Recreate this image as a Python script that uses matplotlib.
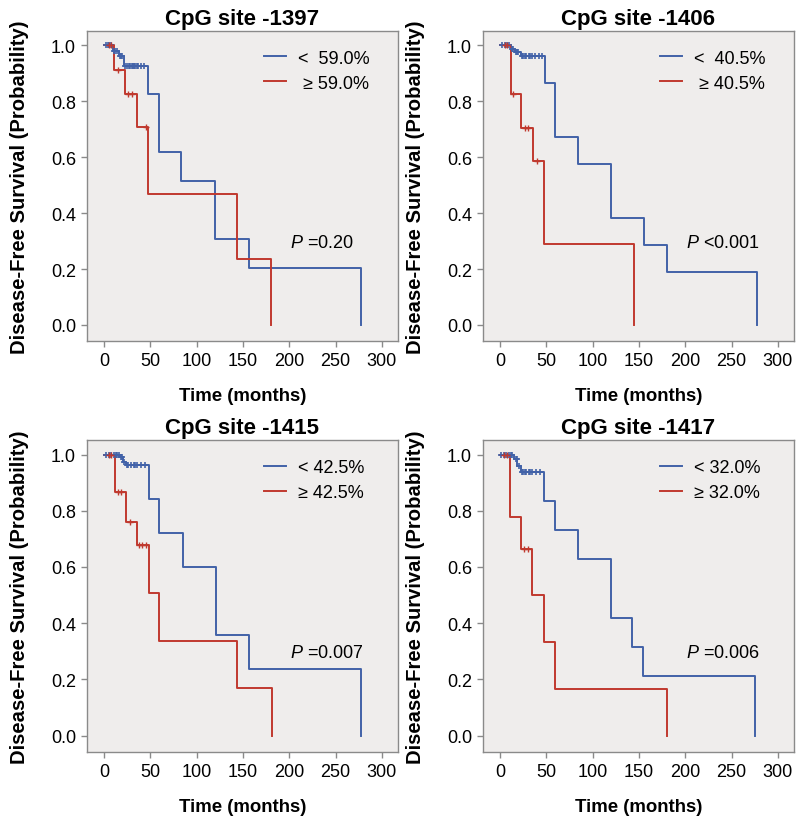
import matplotlib
matplotlib.use('Agg')
import matplotlib.pyplot as plt
import numpy as np
from matplotlib.lines import Line2D

# ==================== SETTINGS ====================
plt.rcParams['font.family'] = ['Liberation Sans', 'DejaVu Sans']
plt.rcParams['mathtext.fontset'] = 'custom'
plt.rcParams['mathtext.rm'] = 'Liberation Sans'
plt.rcParams['mathtext.it'] = 'Liberation Sans:italic'

# ==================== DATA ====================
sites = ['CpG site -1397', 'CpG site -1406', 'CpG site -1415', 'CpG site -1417']
low_labels = ['<  59.0%', '<  40.5%', '< 42.5%', '< 32.0%']
high_labels = [' ≥ 59.0%', ' ≥ 40.5%', '≥ 42.5%', '≥ 32.0%']
p_texts = ['=0.20', '<0.001', '=0.007', '=0.006']

# step curves: event times (months) and survival after each step
low_t_1397 = [0, 10, 16, 22, 48, 60, 83, 120, 157, 277]
low_s_1397 = [1.0, 0.98, 0.96, 0.926, 0.824, 0.617, 0.513, 0.307, 0.205, 0.0]
high_t_1397 = [0, 11, 23, 36, 48, 144, 180]
high_s_1397 = [1.0, 0.912, 0.824, 0.706, 0.470, 0.235, 0.0]
low_c_1397 = [2, 4, 6, 8, 11, 12, 14, 17, 18, 20, 23, 25, 27, 28, 30, 31, 33, 34, 36, 37, 40, 43]
high_c_1397 = [5, 8, 15, 26, 30, 45]

low_t_1406 = [0, 12, 16, 23, 49, 60, 84, 120, 156, 180, 277]
low_s_1406 = [1.0, 0.985, 0.975, 0.962, 0.866, 0.673, 0.576, 0.382, 0.286, 0.189, 0.0]
high_t_1406 = [0, 12, 23, 36, 48, 145]
high_s_1406 = [1.0, 0.827, 0.704, 0.585, 0.290, 0.0]
low_c_1406 = [2, 5, 8, 10, 13, 14, 17, 18, 20, 24, 25, 27, 28, 31, 33, 35, 38, 42, 45]
high_c_1406 = [5, 8, 14, 27, 30, 40]

low_t_1415 = [0, 18, 21, 24, 49, 60, 85, 121, 157, 278]
low_s_1415 = [1.0, 0.99, 0.975, 0.962, 0.842, 0.722, 0.601, 0.359, 0.239, 0.0]
high_t_1415 = [0, 12, 24, 36, 49, 60, 144, 181]
high_s_1415 = [1.0, 0.865, 0.761, 0.678, 0.507, 0.338, 0.168, 0.0]
low_c_1415 = [2, 5, 8, 11, 13, 14, 16, 19, 20, 22, 25, 26, 29, 32, 34, 36, 40, 44]
high_c_1415 = [5, 8, 15, 18, 28, 38, 41, 45]

low_t_1417 = [0, 15, 19, 23, 48, 60, 84, 120, 143, 155, 275]
low_s_1417 = [1.0, 0.985, 0.96, 0.938, 0.836, 0.733, 0.628, 0.419, 0.315, 0.211, 0.0]
high_t_1417 = [0, 11, 23, 35, 48, 60, 180]
high_s_1417 = [1.0, 0.778, 0.665, 0.499, 0.333, 0.166, 0.0]
low_c_1417 = [1, 4, 7, 10, 12, 13, 17, 18, 21, 24, 25, 27, 28, 31, 33, 35, 39, 43]
high_c_1417 = [4, 8, 26, 30]

low_t = [low_t_1397, low_t_1406, low_t_1415, low_t_1417]
low_s = [low_s_1397, low_s_1406, low_s_1415, low_s_1417]
high_t = [high_t_1397, high_t_1406, high_t_1415, high_t_1417]
high_s = [high_s_1397, high_s_1406, high_s_1415, high_s_1417]
low_c = [low_c_1397, low_c_1406, low_c_1415, low_c_1417]
high_c = [high_c_1397, high_c_1406, high_c_1415, high_c_1417]

x_ticks = [0, 50, 100, 150, 200, 250, 300]
y_ticks = [0.0, 0.2, 0.4, 0.6, 0.8, 1.0]

BLUE = '#4262a8'
RED = '#c0392e'
BG = '#efedec'
EDGE = '#8a8a8a'

# ==================== PLOT ====================
fig = plt.figure(figsize=(8, 8.2), dpi=100)
positions = [
    [0.109, 0.583, 0.388, 0.378],
    [0.604, 0.583, 0.388, 0.378],
    [0.109, 0.082, 0.388, 0.380],
    [0.604, 0.082, 0.388, 0.380],
]


def surv_at(times, surv, c):
    # value of the step curve at censor time c
    idx = np.searchsorted(times, c, side='right') - 1
    return np.array(surv)[idx]


for i in range(4):
    ax = fig.add_axes(positions[i])
    ax.set_facecolor(BG)

    ax.step(low_t[i], low_s[i], where='post', color=BLUE, lw=1.4)
    ax.step(high_t[i], high_s[i], where='post', color=RED, lw=1.4)

    # censor marks
    lc = np.array(low_c[i])
    hc = np.array(high_c[i])
    ax.plot(lc, surv_at(low_t[i], low_s[i], lc), '+', color=BLUE, ms=5, mew=1.2)
    ax.plot(hc, surv_at(high_t[i], high_s[i], hc), '+', color=RED, ms=5, mew=1)

    ax.set_xlim(-18, 317)
    ax.set_ylim(-0.057, 1.051)
    ax.set_xticks(x_ticks)
    ax.set_yticks(y_ticks)
    ax.set_yticklabels([f'{v:.1f}' for v in y_ticks])
    ax.tick_params(direction='out', length=4, width=1, color=EDGE,
                   labelsize=13, pad=4)
    for sp in ax.spines.values():
        sp.set_color(EDGE)
        sp.set_linewidth(1)

    ax.set_title(sites[i], fontsize=16, fontweight='bold', pad=5)
    ax.set_xlabel('Time (months)', fontsize=13.4, fontweight='bold', labelpad=13)
    ax.set_ylabel('Disease-Free Survival (Probability)', fontsize=14.6,
                  fontweight='bold', labelpad=16)

    handles = [Line2D([], [], color=BLUE, lw=1.4), Line2D([], [], color=RED, lw=1.4)]
    ax.legend(handles, [low_labels[i], high_labels[i]], loc='upper left',
              bbox_to_anchor=(0.57, 0.94), frameon=False, fontsize=13,
              handlelength=1.2, handletextpad=0.7, labelspacing=0.45,
              borderaxespad=0, borderpad=0)

    ax.text(201, 0.295, r'$\mathit{P}$ ' + p_texts[i], fontsize=13,
            ha='left', va='center')

plt.savefig('out.png', dpi=100)
